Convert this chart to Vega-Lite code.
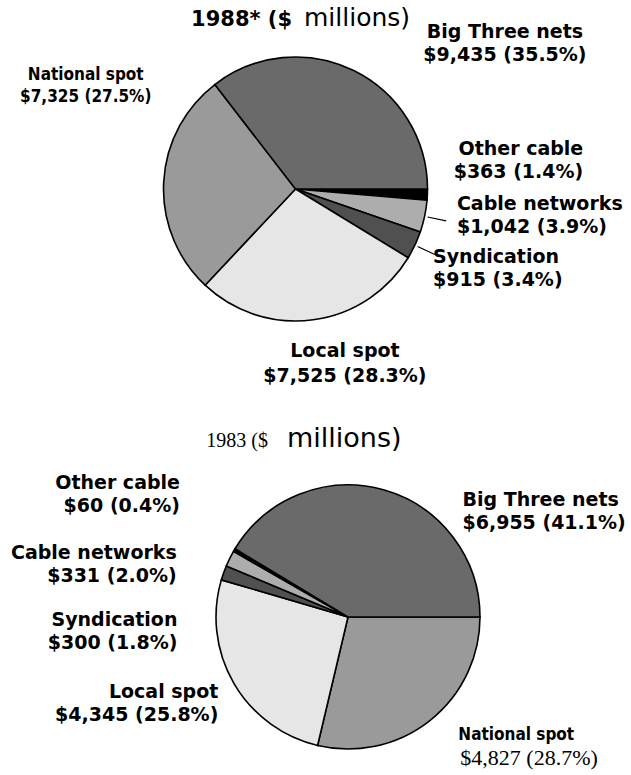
{
  "$schema": "https://vega.github.io/schema/vega-lite/v6.json",
  "padding": 0,
  "background": "white",
  "bounds": "flush",
  "spacing": 89,
  "config": {"view": {"stroke": null}, "text": {"font": "DejaVu Sans", "fontWeight": "bold", "fontSize": 19, "lineHeight": 23, "lineBreak": "\n", "baseline": "middle", "color": "black"}},
  "vconcat": [
    {
      "width": 591,
      "height": 378,
      "data": {"values": [
        {"cat": "Other cable", "value": 363, "pct": 1.4, "ord": 1},
        {"cat": "Cable networks", "value": 1042, "pct": 3.9, "ord": 2},
        {"cat": "Syndication", "value": 915, "pct": 3.4, "ord": 3},
        {"cat": "Local spot", "value": 7525, "pct": 28.3, "ord": 4},
        {"cat": "National spot", "value": 7325, "pct": 27.5, "ord": 5},
        {"cat": "Big Three nets", "value": 9435, "pct": 35.5, "ord": 6}
      ]},
      "transform": [
        {"window": [{"op": "sum", "field": "value", "as": "cum"}], "sort": [{"field": "ord", "order": "ascending"}], "frame": [null, 0]},
        {"calculate": "datum.cum - datum.value / 2", "as": "mid"},
        {"calculate": "'$' + format(datum.value, ',') + ' (' + format(datum.pct, '.1f') + '%)'", "as": "line2"},
        {"calculate": "datum.cat + '\\n' + datum.line2", "as": "lbl"}
      ],
      "layer": [
        {
          "mark": {"type": "arc", "radius": 132, "stroke": "black", "strokeWidth": 1.6},
          "encoding": {
            "theta": {"field": "value", "type": "quantitative", "stack": true, "scale": {"range": [1.5708, 7.854], "nice": false}},
            "order": {"field": "ord", "type": "quantitative"},
            "fill": {"field": "cat", "type": "nominal", "legend": null, "scale": {"domain": ["Big Three nets", "National spot", "Local spot", "Syndication", "Cable networks", "Other cable"], "range": ["#6a6a6a", "#9a9a9a", "#e6e6e6", "#505050", "#adadad", "#000000"]}}
          }
        },
        {
          "transform": [{"filter": "datum.cat == 'Cable networks' || datum.cat == 'Syndication'"}],
          "mark": {"type": "arc", "radius": 154, "radius2": 135, "stroke": "black", "strokeWidth": 1.2, "fill": null},
          "encoding": {"theta": {"field": "mid", "type": "quantitative"}, "theta2": {"field": "mid"}}
        },
        {"transform": [{"filter": "datum.cat == 'Big Three nets'"}], "mark": {"type": "text", "align": "center", "radius": 162, "dx": 138, "dy": -11.5}, "encoding": {"theta": {"field": "mid", "type": "quantitative"}, "text": {"field": "lbl"}}},
        {"transform": [{"filter": "datum.cat == 'Other cable'"}], "mark": {"type": "text", "align": "right", "radius": 288, "dy": -52.5}, "encoding": {"theta": {"field": "mid", "type": "quantitative"}, "text": {"field": "lbl"}}},
        {"transform": [{"filter": "datum.cat == 'Cable networks'"}], "mark": {"type": "text", "align": "left", "radius": 165, "dy": -19.5}, "encoding": {"theta": {"field": "mid", "type": "quantitative"}, "text": {"field": "lbl"}}},
        {"transform": [{"filter": "datum.cat == 'Syndication'"}], "mark": {"type": "text", "align": "left", "radius": 152, "dy": 3.5}, "encoding": {"theta": {"field": "mid", "type": "quantitative"}, "text": {"field": "lbl"}}},
        {"transform": [{"filter": "datum.cat == 'Local spot'"}], "mark": {"type": "text", "align": "center", "radius": 175, "dx": 26, "dy": -11.5, "lineHeight": 25}, "encoding": {"theta": {"field": "mid", "type": "quantitative"}, "text": {"field": "lbl"}}},
        {"transform": [{"filter": "datum.cat == 'National spot'"}], "mark": {"type": "text", "align": "center", "radius": 210, "dy": -103.5, "font": "DejaVu Sans Condensed, Liberation Sans", "fontSize": 17, "lineHeight": 22}, "encoding": {"theta": {"field": "mid", "type": "quantitative"}, "text": {"field": "lbl"}}},
        {"data": {"values": [{"t": "1988* ($"}]}, "mark": {"type": "text", "align": "right", "baseline": "alphabetic", "fontSize": 21, "dx": -3.5, "dy": -163}, "encoding": {"text": {"field": "t"}}},
        {"data": {"values": [{"t": "millions)"}]}, "mark": {"type": "text", "align": "left", "baseline": "alphabetic", "fontWeight": "normal", "fontSize": 25, "dx": 8.5, "dy": -163}, "encoding": {"text": {"field": "t"}}}
      ]
    },
    {
      "bounds": "flush",
      "spacing": 0,
      "hconcat": [
        {"width": 198, "height": 300, "data": {"values": [{}]}, "mark": {"type": "point", "opacity": 0}, "encoding": {}},
        {
          "width": 300,
          "height": 300,
          "data": {"values": [
            {"cat": "National spot", "value": 4827, "pct": 28.7, "ord": 1},
            {"cat": "Local spot", "value": 4345, "pct": 25.8, "ord": 2},
            {"cat": "Syndication", "value": 300, "pct": 1.8, "ord": 3},
            {"cat": "Cable networks", "value": 331, "pct": 2.0, "ord": 4},
            {"cat": "Other cable", "value": 60, "pct": 0.4, "ord": 5},
            {"cat": "Big Three nets", "value": 6955, "pct": 41.1, "ord": 6}
          ]},
          "transform": [
            {"window": [{"op": "sum", "field": "value", "as": "cum"}], "sort": [{"field": "ord", "order": "ascending"}], "frame": [null, 0]},
            {"calculate": "datum.cum - datum.value / 2", "as": "mid"},
            {"calculate": "'$' + format(datum.value, ',') + ' (' + format(datum.pct, '.1f') + '%)'", "as": "line2"},
            {"calculate": "datum.cat + '\\n' + datum.line2", "as": "lbl"}
          ],
          "layer": [
            {
              "mark": {"type": "arc", "radius": 132, "stroke": "black", "strokeWidth": 1.6},
              "encoding": {
                "theta": {"field": "value", "type": "quantitative", "stack": true, "scale": {"range": [1.5708, 7.854], "nice": false}},
                "order": {"field": "ord", "type": "quantitative"},
                "fill": {"field": "cat", "type": "nominal", "legend": null, "scale": {"domain": ["Big Three nets", "National spot", "Local spot", "Syndication", "Cable networks", "Other cable"], "range": ["#6a6a6a", "#9a9a9a", "#e6e6e6", "#505050", "#adadad", "#000000"]}}
              }
            },
            {"transform": [{"filter": "datum.cat == 'National spot'"}], "mark": {"type": "text", "align": "left", "radius": 165, "dx": 8, "dy": -11, "font": "DejaVu Sans Condensed, Liberation Sans", "fontSize": 17}, "encoding": {"theta": {"field": "mid", "type": "quantitative"}, "text": {"field": "cat"}}},
            {"transform": [{"filter": "datum.cat == 'National spot'"}], "mark": {"type": "text", "align": "left", "radius": 165, "dx": 10, "dy": 12, "font": "Liberation Serif", "fontWeight": "normal", "fontSize": 22}, "encoding": {"theta": {"field": "mid", "type": "quantitative"}, "text": {"field": "line2"}}},
            {"transform": [{"filter": "datum.cat == 'Local spot'"}], "mark": {"type": "text", "align": "right", "radius": 150, "dy": -0.5}, "encoding": {"theta": {"field": "mid", "type": "quantitative"}, "text": {"field": "lbl"}}},
            {"transform": [{"filter": "datum.cat == 'Syndication'"}], "mark": {"type": "text", "align": "right", "radius": 181, "dy": 63.5}, "encoding": {"theta": {"field": "mid", "type": "quantitative"}, "text": {"field": "lbl"}}},
            {"transform": [{"filter": "datum.cat == 'Cable networks'"}], "mark": {"type": "text", "align": "right", "radius": 191, "dy": 20.5}, "encoding": {"theta": {"field": "mid", "type": "quantitative"}, "text": {"field": "lbl"}}},
            {"transform": [{"filter": "datum.cat == 'Other cable'"}], "mark": {"type": "text", "align": "right", "radius": 195, "dy": -35.5}, "encoding": {"theta": {"field": "mid", "type": "quantitative"}, "text": {"field": "lbl"}}},
            {"transform": [{"filter": "datum.cat == 'Big Three nets'"}], "mark": {"type": "text", "align": "left", "radius": 110, "dx": 85, "dy": -11.5}, "encoding": {"theta": {"field": "mid", "type": "quantitative"}, "text": {"field": "lbl"}}},
            {"data": {"values": [{"t": "1983 ($"}]}, "mark": {"type": "text", "align": "right", "baseline": "alphabetic", "font": "Liberation Serif", "fontWeight": "normal", "fontSize": 20, "dx": -80, "dy": -170}, "encoding": {"text": {"field": "t"}}},
            {"data": {"values": [{"t": "millions)"}]}, "mark": {"type": "text", "align": "left", "baseline": "alphabetic", "fontWeight": "normal", "fontSize": 27, "dx": -61, "dy": -170}, "encoding": {"text": {"field": "t"}}}
          ]
        }
      ]
    }
  ]
}
